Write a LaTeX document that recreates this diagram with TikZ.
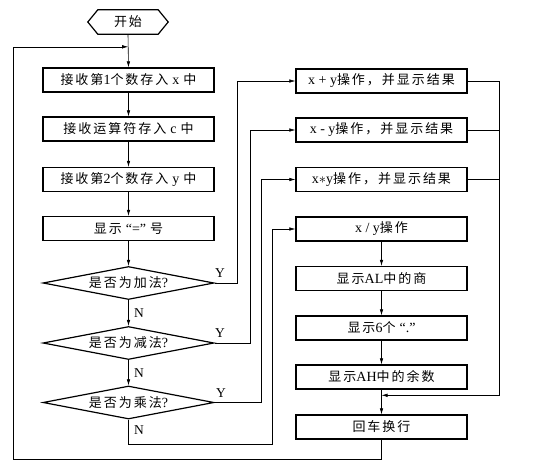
\documentclass[tikz,border=0pt]{standalone}
\usepackage{fontspec}
\setmainfont{Liberation Serif}
\newfontfamily\cjk{Noto Sans CJK SC}[LetterSpace=15,Scale=0.93]
\usetikzlibrary{shapes.geometric,arrows.meta,calc}
\newcommand{\gap}{\hspace{4pt}}
\begin{document}
\begin{tikzpicture}[x=1pt,y=-1pt,
  txt/.style={font=\fontsize{14}{16}\selectfont},
  box/.style={txt,draw,line width=1.2pt,minimum width=171pt,minimum height=24pt,inner sep=0pt},
  dia/.style={txt,draw,diamond,aspect=5.2,line width=1.2pt,minimum width=171pt,minimum height=33pt,inner sep=0pt},
  arr/.style={-{Latex[length=6pt,width=3.5pt]},line width=0.6pt},
  ln/.style={line width=0.6pt},
  lab/.style={font=\fontsize{13.5}{15}\selectfont,inner sep=0pt}]
\useasboundingbox (0,0) rectangle (533,466);
% start
\node[txt,minimum width=80pt,minimum height=24pt,inner sep=0pt] (start) at (128,22) {{\cjk 开始}};
\draw[line width=1.2pt] (start.west) -- ([xshift=10pt]start.north west) -- ([xshift=-10pt]start.north east) -- (start.east) -- ([xshift=-10pt]start.south east) -- ([xshift=10pt]start.south west) -- cycle;
% left column
\node[box] (b1) at (128.5,80) {{\cjk 接收第}1{\cjk 个数存入}\gap x\gap{\cjk 中}};
\node[box] (b2) at (128.5,129) {{\cjk 接收运算符存入}\gap c\gap{\cjk 中}};
\node[box] (b3) at (128.5,179.5) {{\cjk 接收第}2{\cjk 个数存入}\gap y\gap{\cjk 中}};
\node[box] (b4) at (128.5,228.5) {{\cjk 显示}\gap “=”\gap{\cjk 号}};
\node[dia] (d1) at (128.5,283) {{\cjk 是否为加法}?};
\node[dia] (d2) at (128.5,343) {{\cjk 是否为减法}?};
\node[dia] (d3) at (128.5,402.5) {{\cjk 是否为乘法}?};
% right column
\node[box] (A) at (381.5,81) {x + y{\cjk 操作，并显示结果}};
\node[box] (B) at (381.5,130) {x - y{\cjk 操作，并显示结果}};
\node[box] (C) at (381.5,179.5) {x{$*$}y{\cjk 操作，并显示结果}};
\node[box] (D) at (381.5,229) {x / y{\cjk 操作}};
\node[box] (E) at (381.5,278.5) {{\cjk 显示}AL{\cjk 中的商}};
\node[box] (F) at (381.5,328) {{\cjk 显示}6{\cjk 个}\gap “.”};
\node[box] (G) at (381.5,377) {{\cjk 显示}AH{\cjk 中的余数}};
\node[box] (H) at (381.5,427) {{\cjk 回车换行}};
% labels
\node[lab] (y1) at (220,273) {Y};
\node[lab] (y2) at (220,333) {Y};
\node[lab] (y3) at (221,393) {Y};
\node[lab] (n1) at (139,313) {N};
\node[lab] (n2) at (139,373) {N};
\node[lab] (n3) at (139,430) {N};
% coordinates
\coordinate (j) at ($(start.south)!0.38!(b1.north)$);
\coordinate (m) at ($(G.south)!0.23!(H.north)$);
% main chain
\draw[arr] (start.south) -- (b1.north);
\draw[arr] (b1) -- (b2);
\draw[arr] (b2) -- (b3);
\draw[arr] (b3) -- (b4);
\draw[arr] (b4) -- (d1.north);
\draw[arr] (d1.south) -- (d2.north);
\draw[arr] (d2.south) -- (d3.north);
% yes branches
\draw[arr] (d1.east) -- ++(23,0) |- (A.west);
\draw[arr] (d2.east) -- ++(36,0) |- (B.west);
\draw[arr] (d3.east) -- ++(47,0) |- (C.west);
% no branch of d3
\draw[arr] (d3.south) -- ++(0,25) -- ++(144,0) |- (D.west);
% division chain
\draw[arr] (D) -- (E);
\draw[arr] (E) -- (F);
\draw[arr] (F) -- (G);
\draw[arr] (G) -- (H);
% right collector
\draw[ln] (A.east) -- ++(32,0) coordinate (rt);
\draw[ln] (B.east) -- (B.east -| rt);
\draw[ln] (C.east) -- (C.east -| rt);
\draw[arr] (rt) -- (rt |- m) -- (m);
% loop back
\draw[arr] (H.south) -- ++(0,20) -- ++(-368,0) |- (j);
\end{tikzpicture}
\end{document}
